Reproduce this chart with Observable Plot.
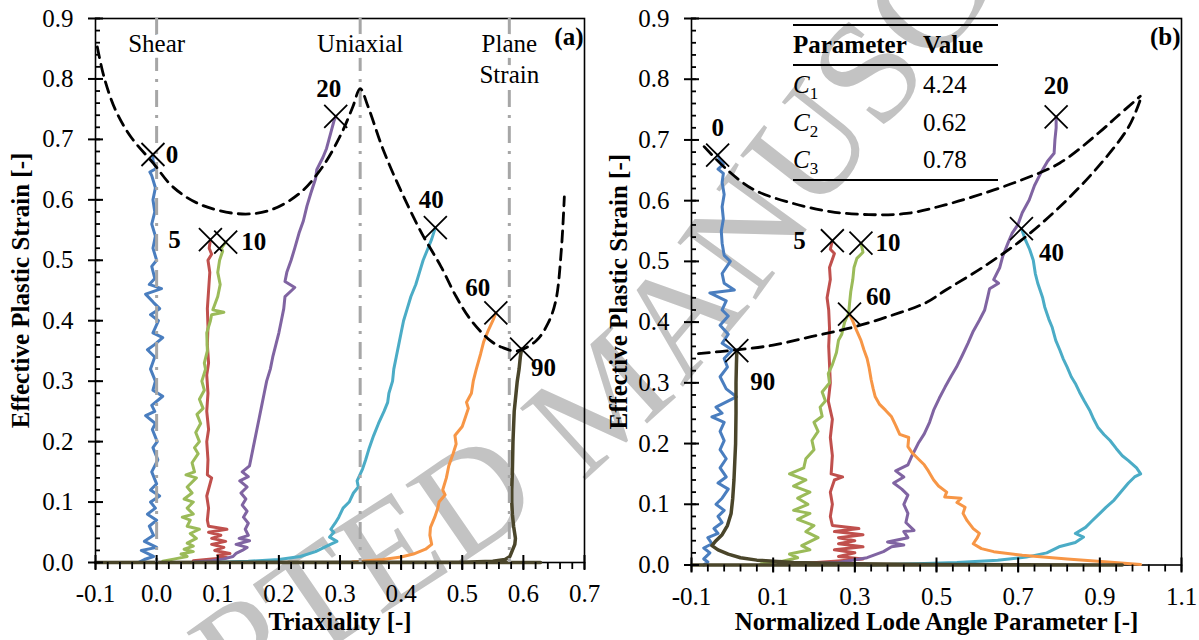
<!DOCTYPE html>
<html><head><meta charset="utf-8">
<script src="https://cdn.jsdelivr.net/npm/d3@7"></script>
<script src="https://cdn.jsdelivr.net/npm/@observablehq/plot@0.6"></script>
<style>
body{margin:0;background:#fff;}
#fig{position:relative;width:1199px;height:640px;display:flex;background:#fff;overflow:hidden;}
#fig svg.plotsvg{position:relative;z-index:1;overflow:visible;background:transparent;}
#wm{position:absolute;left:0;top:0;z-index:0;}
#tbl{position:absolute;z-index:2;left:793px;top:24px;width:205px;font-family:"Times New Roman","Liberation Serif",serif;font-size:25px;color:#000;border-top:2px solid #000;border-bottom:2px solid #000;}
#tbl .hdr{position:relative;height:38px;line-height:38px;font-weight:bold;border-bottom:2px solid #000;}
#tbl .row{position:relative;height:37.5px;line-height:37.5px;}
#tbl .c1{position:absolute;left:0;top:0;white-space:nowrap;}
#tbl .c2{position:absolute;left:130px;top:0;white-space:nowrap;}
#tbl i{font-style:italic;}
#tbl sub{font-size:17px;line-height:0;}
</style></head>
<body><div id="fig"></div>
<script>
// ---------------- data ----------------
const angles = ["0","5","10","20","40","60","90"];
const yTicks = [0,0.1,0.2,0.3,0.4,0.5,0.6,0.7,0.8,0.9];
const xTicksTriax = [-0.1,0,0.1,0.2,0.3,0.4,0.5,0.6,0.7];
const xTicksLode = [-0.1,0.1,0.3,0.5,0.7,0.9,1.1];
const refTriax = [0, 0.333, 0.577];
const refLabels = ["Shear","Uniaxial","Plane\nStrain"];
const tableParams = ["1","2","3"];
const tableValues = ["4.24","0.62","0.78"];
const watermark = "ACCEPTED MANUSCRIPT";
const failStrain = [0.675,0.534,0.530,0.738,0.554,0.413,0.353];
const failTriax = [-0.006,0.088,0.113,0.293,0.456,0.555,0.597];
const failLode = [-0.036,0.245,0.315,0.793,0.708,0.287,0.011];

// triaxiality panel (a)
const triax0 = [[-0.03,0.0],[-0.02,0.005],[-0.005,0.01],[-0.025,0.02],[0.0,0.025],[-0.02,0.035],[-0.005,0.045],[-0.012,0.06],[0.0,0.07],[-0.015,0.08],[-0.002,0.09],[-0.01,0.1],[0.005,0.11],[-0.01,0.12],[0.0,0.13],[-0.008,0.15],[0.002,0.17],[-0.006,0.19],[0.001,0.2],[-0.007,0.22],[-0.002,0.23],[-0.018,0.243],[-0.003,0.25],[-0.008,0.26],[0.01,0.275],[-0.006,0.285],[-0.002,0.3],[-0.01,0.32],[-0.003,0.34],[-0.015,0.352],[-0.004,0.36],[0.01,0.372],[-0.006,0.38],[0.003,0.4],[-0.01,0.41],[0.005,0.42],[-0.005,0.43],[-0.018,0.444],[0.008,0.453],[-0.012,0.46],[-0.003,0.47],[-0.008,0.49],[0.0,0.5],[-0.006,0.52],[-0.002,0.54],[-0.008,0.56],[-0.003,0.58],[-0.006,0.6],[-0.002,0.62],[-0.008,0.64],[-0.011,0.646],[0.0,0.652],[-0.006,0.665],[-0.006,0.675]];
const triax5 = [[0.06,0.003],[0.09,0.006],[0.115,0.008],[0.1,0.012],[0.12,0.015],[0.095,0.02],[0.11,0.025],[0.09,0.03],[0.113,0.035],[0.09,0.04],[0.105,0.045],[0.085,0.05],[0.115,0.055],[0.085,0.06],[0.083,0.07],[0.085,0.09],[0.082,0.11],[0.09,0.14],[0.083,0.145],[0.084,0.17],[0.082,0.2],[0.085,0.22],[0.082,0.25],[0.084,0.28],[0.082,0.31],[0.085,0.33],[0.083,0.36],[0.084,0.39],[0.083,0.42],[0.085,0.45],[0.087,0.48],[0.084,0.5],[0.09,0.51],[0.086,0.52],[0.088,0.534]];
const triax10 = [[0.01,0.002],[0.03,0.006],[0.05,0.01],[0.04,0.014],[0.06,0.018],[0.045,0.022],[0.06,0.027],[0.05,0.032],[0.065,0.04],[0.055,0.048],[0.07,0.055],[0.05,0.06],[0.055,0.07],[0.042,0.075],[0.06,0.08],[0.05,0.09],[0.06,0.1],[0.045,0.105],[0.058,0.115],[0.05,0.125],[0.065,0.14],[0.048,0.145],[0.062,0.15],[0.058,0.165],[0.068,0.18],[0.062,0.19],[0.07,0.2],[0.064,0.215],[0.072,0.23],[0.066,0.245],[0.076,0.255],[0.07,0.27],[0.078,0.285],[0.074,0.3],[0.08,0.32],[0.078,0.33],[0.083,0.35],[0.082,0.38],[0.088,0.4],[0.09,0.41],[0.11,0.414],[0.092,0.418],[0.1,0.44],[0.104,0.46],[0.1,0.48],[0.103,0.5],[0.108,0.515],[0.106,0.52],[0.113,0.53]];
const triax20 = [[0.06,0.001],[0.09,0.003],[0.11,0.006],[0.125,0.01],[0.13,0.015],[0.14,0.02],[0.148,0.025],[0.13,0.03],[0.152,0.036],[0.135,0.04],[0.15,0.045],[0.145,0.055],[0.15,0.065],[0.142,0.075],[0.148,0.085],[0.14,0.095],[0.146,0.105],[0.138,0.115],[0.148,0.125],[0.136,0.135],[0.15,0.142],[0.14,0.15],[0.152,0.16],[0.155,0.175],[0.158,0.19],[0.16,0.2],[0.164,0.22],[0.168,0.24],[0.172,0.26],[0.176,0.28],[0.18,0.3],[0.186,0.32],[0.19,0.34],[0.195,0.36],[0.2,0.38],[0.204,0.4],[0.208,0.42],[0.21,0.44],[0.226,0.455],[0.21,0.465],[0.213,0.48],[0.22,0.5],[0.226,0.52],[0.233,0.545],[0.24,0.565],[0.246,0.59],[0.252,0.61],[0.26,0.635],[0.262,0.65],[0.272,0.67],[0.278,0.685],[0.282,0.7],[0.286,0.715],[0.29,0.73],[0.293,0.738]];
const triax40 = [[0.09,0.0],[0.15,0.002],[0.2,0.005],[0.235,0.01],[0.26,0.018],[0.28,0.028],[0.295,0.035],[0.283,0.042],[0.29,0.05],[0.285,0.055],[0.292,0.065],[0.298,0.075],[0.305,0.09],[0.315,0.1],[0.322,0.115],[0.33,0.125],[0.328,0.135],[0.337,0.155],[0.342,0.17],[0.348,0.19],[0.355,0.21],[0.363,0.23],[0.372,0.25],[0.378,0.265],[0.38,0.28],[0.386,0.3],[0.388,0.32],[0.392,0.34],[0.396,0.36],[0.4,0.38],[0.404,0.4],[0.41,0.42],[0.416,0.44],[0.424,0.46],[0.43,0.48],[0.436,0.5],[0.444,0.52],[0.45,0.535],[0.456,0.554]];
const triax60 = [[0.32,0.001],[0.37,0.005],[0.4,0.009],[0.42,0.014],[0.44,0.022],[0.45,0.03],[0.447,0.045],[0.448,0.058],[0.455,0.075],[0.46,0.09],[0.462,0.1],[0.472,0.112],[0.468,0.12],[0.474,0.14],[0.478,0.16],[0.485,0.18],[0.49,0.196],[0.488,0.21],[0.5,0.225],[0.505,0.24],[0.51,0.255],[0.507,0.265],[0.515,0.28],[0.518,0.3],[0.523,0.32],[0.53,0.345],[0.535,0.365],[0.543,0.385],[0.55,0.4],[0.555,0.413]];
const triax90 = [[0.628,0.0],[-0.1,0.0],[0.5,0.0005],[0.55,0.002],[0.57,0.005],[0.578,0.01],[0.582,0.02],[0.586,0.03],[0.587,0.04],[0.584,0.06],[0.582,0.08],[0.581,0.1],[0.581,0.12],[0.582,0.15],[0.583,0.2],[0.585,0.25],[0.588,0.28],[0.59,0.3],[0.593,0.32],[0.595,0.34],[0.597,0.353]];
const locusTriax = [[-0.097,0.853],[-0.086,0.803],[-0.067,0.748],[-0.042,0.704],[-0.005,0.66],[0.027,0.621],[0.07,0.593],[0.133,0.577],[0.183,0.582],[0.233,0.61],[0.271,0.654],[0.302,0.709],[0.321,0.754],[0.333,0.784],[0.346,0.754],[0.371,0.682],[0.402,0.61],[0.434,0.544],[0.465,0.49],[0.49,0.44],[0.515,0.4],[0.546,0.367],[0.565,0.356],[0.59,0.35],[0.621,0.367],[0.64,0.395],[0.653,0.433],[0.662,0.516],[0.667,0.605]];

// normalized Lode angle panel (b)
const lode0 = [[-0.07,0.0],[-0.06,0.005],[-0.07,0.01],[-0.055,0.02],[-0.07,0.028],[-0.05,0.035],[-0.06,0.045],[-0.035,0.052],[-0.045,0.06],[-0.025,0.07],[-0.035,0.08],[-0.02,0.09],[-0.04,0.1],[-0.025,0.11],[-0.01,0.125],[-0.035,0.135],[-0.015,0.145],[-0.03,0.16],[-0.015,0.175],[-0.03,0.19],[-0.02,0.205],[-0.03,0.22],[-0.02,0.235],[-0.05,0.244],[-0.025,0.25],[-0.04,0.26],[0.01,0.277],[-0.015,0.29],[-0.03,0.31],[-0.012,0.326],[-0.02,0.34],[0.0,0.354],[-0.025,0.365],[-0.01,0.38],[-0.03,0.395],[-0.01,0.41],[-0.025,0.42],[-0.015,0.435],[-0.055,0.448],[0.005,0.453],[-0.02,0.464],[-0.025,0.48],[-0.005,0.5],[-0.02,0.51],[-0.025,0.53],[-0.027,0.55],[-0.022,0.57],[-0.025,0.59],[-0.02,0.61],[-0.025,0.63],[-0.022,0.645],[-0.035,0.652],[-0.022,0.66],[-0.03,0.668],[-0.036,0.675]];
const lode5 = [[0.18,0.003],[0.25,0.006],[0.32,0.01],[0.26,0.014],[0.3,0.02],[0.25,0.025],[0.32,0.03],[0.26,0.035],[0.3,0.04],[0.26,0.045],[0.32,0.05],[0.25,0.055],[0.31,0.06],[0.245,0.065],[0.24,0.08],[0.245,0.1],[0.24,0.12],[0.25,0.14],[0.27,0.145],[0.242,0.15],[0.245,0.18],[0.24,0.21],[0.245,0.24],[0.235,0.27],[0.24,0.3],[0.238,0.33],[0.236,0.36],[0.238,0.39],[0.236,0.42],[0.232,0.44],[0.24,0.47],[0.238,0.49],[0.25,0.513],[0.24,0.52],[0.245,0.534]];
const lode10 = [[0.07,0.002],[0.12,0.006],[0.16,0.012],[0.14,0.018],[0.19,0.025],[0.17,0.032],[0.21,0.045],[0.18,0.055],[0.2,0.065],[0.16,0.075],[0.19,0.085],[0.15,0.09],[0.185,0.1],[0.16,0.11],[0.19,0.12],[0.15,0.13],[0.18,0.14],[0.14,0.15],[0.175,0.16],[0.18,0.175],[0.2,0.19],[0.195,0.205],[0.21,0.22],[0.2,0.235],[0.22,0.245],[0.215,0.26],[0.228,0.27],[0.22,0.285],[0.238,0.3],[0.235,0.315],[0.245,0.33],[0.255,0.35],[0.26,0.37],[0.268,0.38],[0.275,0.4],[0.285,0.415],[0.287,0.43],[0.29,0.45],[0.295,0.47],[0.298,0.49],[0.305,0.505],[0.32,0.515],[0.315,0.53]];
const lode20 = [[0.18,0.002],[0.26,0.004],[0.33,0.012],[0.37,0.022],[0.39,0.03],[0.42,0.033],[0.38,0.038],[0.43,0.045],[0.42,0.055],[0.445,0.057],[0.425,0.07],[0.43,0.085],[0.42,0.1],[0.43,0.115],[0.415,0.125],[0.395,0.135],[0.42,0.145],[0.4,0.155],[0.43,0.165],[0.44,0.18],[0.455,0.2],[0.47,0.216],[0.483,0.235],[0.493,0.255],[0.507,0.275],[0.521,0.293],[0.535,0.31],[0.549,0.326],[0.563,0.345],[0.577,0.365],[0.59,0.385],[0.605,0.403],[0.618,0.42],[0.625,0.44],[0.63,0.455],[0.652,0.464],[0.64,0.47],[0.655,0.49],[0.662,0.508],[0.675,0.53],[0.685,0.546],[0.699,0.56],[0.71,0.58],[0.727,0.601],[0.74,0.625],[0.755,0.645],[0.772,0.665],[0.788,0.678],[0.79,0.7],[0.793,0.72],[0.793,0.738]];
const lode40 = [[0.33,0.0],[0.45,0.002],[0.55,0.004],[0.65,0.008],[0.72,0.013],[0.77,0.02],[0.8,0.03],[0.84,0.037],[0.86,0.046],[0.84,0.052],[0.865,0.062],[0.88,0.072],[0.9,0.085],[0.915,0.095],[0.935,0.107],[0.955,0.123],[0.97,0.135],[0.985,0.145],[1.0,0.15],[0.99,0.16],[0.97,0.172],[0.955,0.18],[0.94,0.192],[0.925,0.205],[0.91,0.215],[0.895,0.227],[0.885,0.24],[0.875,0.255],[0.862,0.27],[0.85,0.285],[0.84,0.299],[0.83,0.31],[0.82,0.326],[0.81,0.34],[0.802,0.354],[0.792,0.37],[0.783,0.392],[0.775,0.405],[0.765,0.425],[0.76,0.44],[0.748,0.464],[0.742,0.48],[0.737,0.502],[0.728,0.52],[0.718,0.535],[0.708,0.554]];
const lode60 = [[1.0,0.001],[0.92,0.005],[0.82,0.01],[0.71,0.016],[0.64,0.022],[0.61,0.027],[0.59,0.035],[0.6,0.045],[0.605,0.052],[0.59,0.06],[0.575,0.073],[0.565,0.085],[0.57,0.095],[0.55,0.103],[0.56,0.11],[0.52,0.112],[0.525,0.12],[0.505,0.13],[0.493,0.14],[0.48,0.155],[0.47,0.165],[0.455,0.175],[0.44,0.185],[0.43,0.195],[0.432,0.21],[0.41,0.215],[0.4,0.23],[0.39,0.244],[0.375,0.255],[0.36,0.265],[0.35,0.277],[0.345,0.29],[0.34,0.305],[0.335,0.325],[0.33,0.34],[0.322,0.355],[0.315,0.37],[0.305,0.385],[0.296,0.4],[0.287,0.413]];
const lode90 = [[-0.1,0.0],[0.955,0.0],[0.5,0.001],[0.3,0.002],[0.15,0.004],[0.06,0.008],[0.02,0.012],[-0.01,0.018],[-0.035,0.025],[-0.05,0.032],[-0.04,0.04],[-0.025,0.05],[-0.012,0.065],[-0.003,0.085],[0.001,0.11],[0.004,0.14],[0.006,0.17],[0.008,0.2],[0.009,0.25],[0.009,0.3],[0.01,0.33],[0.011,0.353]];
const locusLodeUpper = [[-0.069,0.689],[-0.013,0.651],[0.053,0.618],[0.146,0.596],[0.24,0.582],[0.334,0.577],[0.427,0.579],[0.521,0.593],[0.615,0.612],[0.708,0.634],[0.802,0.662],[0.896,0.711],[0.943,0.739],[0.999,0.772]];
const locusLodeLower = [[-0.083,0.348],[0.006,0.354],[0.1,0.362],[0.193,0.376],[0.287,0.39],[0.381,0.409],[0.474,0.432],[0.521,0.452],[0.615,0.491],[0.708,0.535],[0.802,0.59],[0.896,0.656],[0.971,0.722],[0.999,0.766]];

// ---------------- drawing ----------------
const colors = ["#4a7ebf","#c0504d","#9bbb59","#8064a2","#4bacc6","#f79646","#4a452a"];
const FONT = "'Times New Roman', 'Liberation Serif', serif";
const H = 640, MT = 18;
const fmt = d => d.toFixed(1);

function panel(cfg) {
  const {width, ml, mr, mb, xDomain, xMajor, xMinorStep, series, loci, failX, offsets, tag, xTitle, yTitleDx, xTitleDy, refs} = cfg;
  const pw = width - ml - mr, ph = H - MT - mb;
  const xMinor = d3.range(xDomain[0], xDomain[1] + 1e-9, xMinorStep);
  const yMinor = d3.range(0, 0.9 + 1e-9, 0.02);
  const fail = failX.map((x, i) => ({x, y: failStrain[i], a: angles[i]}));
  const marks = [];
  marks.push(Plot.frame({stroke: "black", strokeWidth: 1.6}));
  series.forEach((s, i) => marks.push(Plot.line(s, {x: d => d[0], y: d => d[1], stroke: colors[i], strokeWidth: i === 6 ? 3.5 : 3, strokeLinejoin: "round"})));
  if (refs) {
    marks.push(Plot.ruleX(refTriax, {x: d => d, stroke: "#a6a6a6", strokeWidth: 3, strokeDasharray: "17,8,3,8"}));
    marks.push(Plot.text(refTriax, {x: d => d, text: (d, i) => refLabels[i], frameAnchor: "top", lineAnchor: "top", dy: 11.5, lineHeight: 1.23, fontSize: 25, fill: "black", stroke: "white", strokeWidth: 12, paintOrder: "stroke"}));
  }
  loci.forEach(L => marks.push(Plot.line(L, {x: d => d[0], y: d => d[1], stroke: "black", strokeWidth: 2.8, strokeDasharray: "11,7", curve: "catmull-rom"})));
  marks.push(Plot.dot(fail, {x: "x", y: "y", symbol: "times", r: 10.5, stroke: "black", strokeWidth: 1.8}));
  fail.forEach((f, i) => marks.push(Plot.text([f], {x: "x", y: "y", text: "a", dx: offsets[i][0], dy: offsets[i][1], fontSize: 25, fontWeight: "bold", fill: "black"})));
  // ticks
  marks.push(Plot.tickX(xMinor, {x: d => d, insetTop: ph, insetBottom: -7, stroke: "black", strokeWidth: 1.8}));
  marks.push(Plot.tickX(xMajor, {x: d => d, insetTop: ph - 7, insetBottom: -8, stroke: "black", strokeWidth: 2}));
  marks.push(Plot.tickY(yMinor, {y: d => d, insetLeft: 0, insetRight: pw - 5, stroke: "black", strokeWidth: 1.8}));
  marks.push(Plot.tickY(yTicks, {y: d => d, insetLeft: -7, insetRight: pw - 8, stroke: "black", strokeWidth: 2}));
  marks.push(Plot.axisX(xMajor, {tickSize: 0, tickPadding: 22, tickFormat: fmt, label: null, fontSize: 25}));
  marks.push(Plot.axisY(yTicks, {tickSize: 0, tickPadding: 22, tickFormat: fmt, label: null, fontSize: 25}));
  // titles
  marks.push(Plot.text([xTitle], {frameAnchor: "bottom", lineAnchor: "top", dy: xTitleDy, fontSize: 25, fontWeight: "bold", fill: "black"}));
  marks.push(Plot.text(["Effective Plastic Strain [-]"], {frameAnchor: "left", rotate: -90, textAnchor: "middle", lineAnchor: "top", dx: yTitleDx, fontSize: 25, fontWeight: "bold", fill: "black"}));
  marks.push(Plot.text([tag], {frameAnchor: "top-right", textAnchor: "end", lineAnchor: "top", dx: -1, dy: 9, fontSize: 25, fontWeight: "bold", fill: "black"}));
  const svg = Plot.plot({
    width, height: H, marginLeft: ml, marginRight: mr, marginTop: MT, marginBottom: mb,
    x: {domain: xDomain, axis: null}, y: {domain: [0, 0.9], axis: null},
    style: {fontFamily: FONT, fontSize: "25px", color: "black", background: "transparent", overflow: "visible"},
    marks
  });
  svg.classList.add("plotsvg");
  return svg;
}

const left = panel({
  width: 600, ml: 95, mr: 16, mb: 78, xDomain: [-0.1, 0.7], xMajor: xTicksTriax, xMinorStep: 0.02,
  series: [triax0, triax5, triax10, triax20, triax40, triax60, triax90],
  loci: [locusTriax], failX: failTriax,
  offsets: [[19,0],[-36,0],[28,0],[-7,-27],[-4,-28],[-18,-25],[22,19]],
  tag: "(a)", xTitle: "Triaxiality [-]", yTitleDx: -84, xTitleDy: 50, refs: true
});
const right = panel({
  width: 599, ml: 91, mr: 18, mb: 75.5, xDomain: [-0.1, 1.1], xMajor: xTicksLode, xMinorStep: 0.04,
  series: [lode0, lode5, lode10, lode20, lode40, lode60, lode90],
  loci: [locusLodeUpper, locusLodeLower], failX: failLode,
  offsets: [[0,-27],[-33,0],[27,0],[0,-31],[30,24],[29,-17],[26,31]],
  tag: "(b)", xTitle: "Normalized Lode Angle Parameter [-]", yTitleDx: -82, xTitleDy: 47.5, refs: false
});
const fig = document.getElementById("fig");

// faint watermark behind the panels: letters laid one by one along a gentle arc
const NS = "http://www.w3.org/2000/svg";
const wm = document.createElementNS(NS, "svg");
wm.setAttribute("id", "wm"); wm.setAttribute("width", 1199); wm.setAttribute("height", 640);
fig.appendChild(wm);
fig.appendChild(left);
fig.appendChild(right);
(function () {
  const WM_SIZE = 148;
  // guide through the letter centres seen in the page (T ... C)
  const guide = [[120,740],[315,600],[488,486],[600,400],[700,290],[790,170],[905,25],[990,-80]];
  const path = document.createElementNS(NS, "path");
  path.setAttribute("fill", "none");
  path.setAttribute("d", d3.line().curve(d3.curveCatmullRom)(guide));
  wm.appendChild(path);
  const probe = document.createElementNS(NS, "text");
  probe.setAttribute("font-family", FONT); probe.setAttribute("font-size", WM_SIZE);
  probe.textContent = watermark;
  wm.appendChild(probe);
  const adv = Array.from(watermark, (c, i) => probe.getSubStringLength(i, 1));
  wm.removeChild(probe);
  const total = path.getTotalLength();
  let best = 0, bd = Infinity;
  for (let L = 0; L <= total; L += 1) {
    const p = path.getPointAtLength(L);
    const d = (p.x - guide[1][0]) ** 2 + (p.y - guide[1][1]) ** 2;
    if (d < bd) { bd = d; best = L; }
  }
  const capHalf = WM_SIZE * 0.331;
  let s = best - (adv.slice(0, 5).reduce((a, b) => a + b, 0) + adv[5] / 2);
  Array.from(watermark).forEach((c, i) => {
    const Lc = s + adv[i] / 2;
    s += adv[i];
    if (c === " " || Lc < 0 || Lc > total) return;
    const p = path.getPointAtLength(Lc);
    const q1 = path.getPointAtLength(Math.max(0, Lc - 2)), q2 = path.getPointAtLength(Math.min(total, Lc + 2));
    const ang = Math.atan2(q2.y - q1.y, q2.x - q1.x) * 180 / Math.PI;
    if (p.x < -60 || p.y > 720 || p.y < -70 || p.x > 1260) return;
    const t = document.createElementNS(NS, "text");
    t.setAttribute("font-family", FONT); t.setAttribute("font-size", WM_SIZE);
    t.setAttribute("fill", "#c3c3c3"); t.setAttribute("text-anchor", "middle");
    t.setAttribute("x", 0); t.setAttribute("y", capHalf.toFixed(1));
    t.setAttribute("transform", `translate(${p.x.toFixed(1)},${p.y.toFixed(1)}) rotate(${ang.toFixed(1)})`);
    t.textContent = c;
    wm.appendChild(t);
  });
  wm.removeChild(path);
})();

// parameter table (inset in panel b)
const tbl = document.createElement("div");
tbl.id = "tbl";
let html = '<div class="hdr"><span class="c1">Parameter</span><span class="c2">Value</span></div>';
tableParams.forEach((p, i) => {
  html += `<div class="row"><span class="c1"><i>C</i><sub>${p}</sub></span><span class="c2">${tableValues[i]}</span></div>`;
});
tbl.innerHTML = html;
fig.appendChild(tbl);
</script>
</body></html>
